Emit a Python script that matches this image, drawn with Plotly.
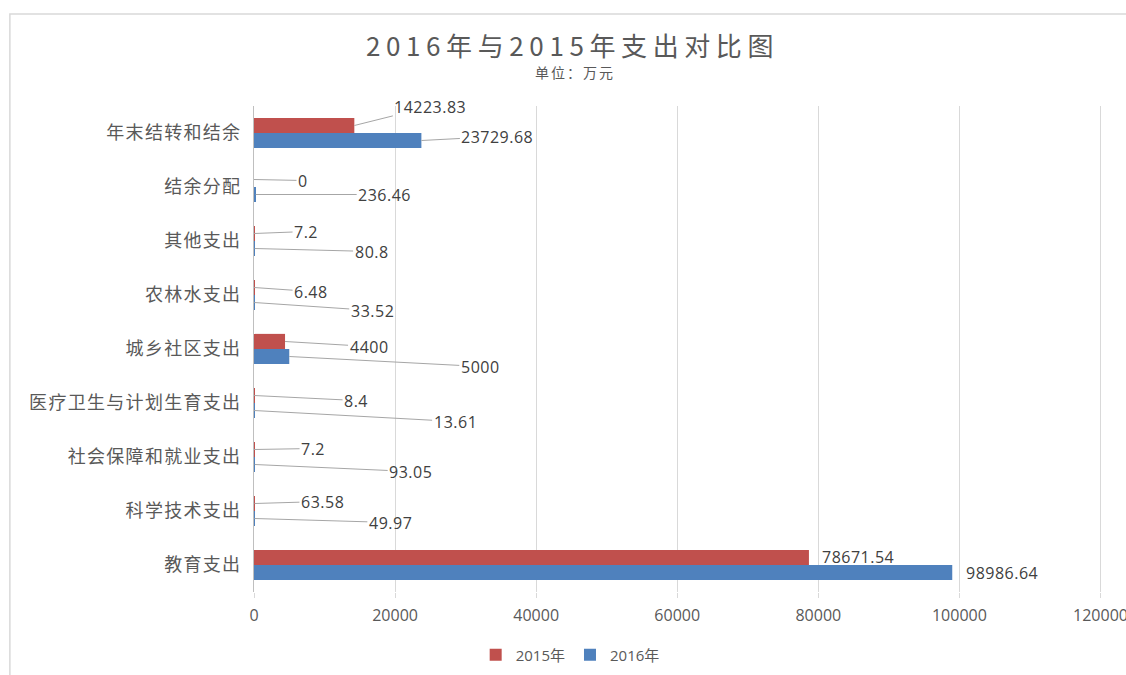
import plotly.graph_objects as go

# ---- data (top-to-bottom as displayed) ----
categories = ["年末结转和结余", "结余分配", "其他支出", "农林水支出", "城乡社区支出",
              "医疗卫生与计划生育支出", "社会保障和就业支出", "科学技术支出", "教育支出"]
values_2015 = [14223.83, 0, 7.2, 6.48, 4400, 8.4, 7.2, 63.58, 78671.54]
values_2016 = [23729.68, 236.46, 80.8, 33.52, 5000, 13.61, 93.05, 49.97, 98986.64]
series_names = ["2015年", "2016年"]
x_ticks = [0, 20000, 40000, 60000, 80000, 100000, 120000]

# label leader offsets (pixels, styling only)
off_2015 = [(76, -19), (49, 1), (52, -2), (57, 4), (84, 5), (102, 5), (59, -1), (68, -2), (49, -1)]
off_2016 = [(76, -4), (129, 0), (117, 3), (118, 8), (191, 10), (201, 11), (156, 7), (136, 4), (50, 0)]

RED = "#C0504D"
BLUE = "#4F81BD"
TXT = "#595959"
GRID = "#D9D9D9"

W, H = 1126, 675
L, T, B = 254, 106, 83
XMAX = 120500
PW = 846 * XMAX / 120000
R = W - L - PW
PH = H - T - B


def px_x(p):
    return (p - L) / PW


def px_y(p):
    return (H - B - p) / PH


def fmt(v):
    return f"{v:.2f}".rstrip("0").rstrip(".")


fig = go.Figure()
fig.add_trace(go.Bar(y=categories, x=values_2015, orientation="h", name=series_names[0],
                     marker=dict(color=RED, line=dict(width=0))))
fig.add_trace(go.Bar(y=categories, x=values_2016, orientation="h", name=series_names[1],
                     marker=dict(color=BLUE, line=dict(width=0))))

annotations = []
for vals, offs, ys in ((values_2015, off_2015, 7.5), (values_2016, off_2016, -7.5)):
    for i, (c, v) in enumerate(zip(categories, vals)):
        ax, ay = offs[i]
        hide = i == len(categories) - 1
        annotations.append(dict(
            x=v, y=c, xref="x", yref="y", yshift=ys,
            text=f'<span style="letter-spacing:0.5px">{fmt(v)}</span>',
            showarrow=True, arrowhead=0, arrowwidth=1,
            arrowcolor="rgba(0,0,0,0)" if hide else "#A6A6A6",
            ax=ax, ay=ay, axref="pixel", ayref="pixel",
            font=dict(size=16, color="#404040", family="Open Sans, Noto Sans CJK SC"),
        ))

# title and subtitle
annotations.append(dict(
    text='<span style="letter-spacing:5.6px">2016年与2015年支出对比图</span>',
    xref="paper", yref="paper", x=px_x(572), y=px_y(45),
    xanchor="center", yanchor="middle", showarrow=False,
    font=dict(size=26, color=TXT, family="Noto Sans CJK SC, Open Sans")))
annotations.append(dict(
    text='<span style="letter-spacing:2px">单位：万元</span>',
    xref="paper", yref="paper", x=px_x(575), y=px_y(72),
    xanchor="center", yanchor="middle", showarrow=False,
    font=dict(size=14, color=TXT, family="Noto Sans CJK SC")))

fig.update_layout(
    width=W, height=H,
    margin=dict(l=L, r=R, t=T, b=B, autoexpand=False),
    paper_bgcolor="white", plot_bgcolor="white",
    barmode="group", bargap=0.44, bargroupgap=0,
    font=dict(family="Open Sans, Noto Sans CJK SC", color=TXT),
    showlegend=True,
    legend=dict(orientation="h", x=px_x(570), y=px_y(655),
                xanchor="center", yanchor="middle",
                font=dict(size=15, color=TXT, family="Open Sans, Noto Sans CJK SC"),
                itemwidth=30, tracegroupgap=0),
    annotations=annotations,
    shapes=[dict(type="rect", xref="paper", yref="paper",
                 x0=px_x(10), x1=px_x(1140),
                 y0=px_y(690), y1=px_y(14),
                 line=dict(color=GRID, width=1.5), fillcolor="rgba(0,0,0,0)", layer="below")],
)
fig.update_xaxes(range=[0, XMAX], tickvals=x_ticks, ticktext=[str(t) for t in x_ticks],
                 showgrid=True, gridcolor=GRID, gridwidth=1, zeroline=False,
                 ticks="outside", ticklen=5, tickcolor=GRID, ticklabelstandoff=4,
                 ticklabeloverflow="allow",
                 tickfont=dict(size=16, color=TXT, family="Open Sans"),
                 showline=False, fixedrange=True)
fig.update_yaxes(autorange="reversed", type="category",
                 tickvals=categories,
                 ticktext=[f'<span style="letter-spacing:1.3px">{c}</span>' for c in categories],
                 showline=True, linecolor="#BFBFBF", linewidth=1,
                 ticks="", ticklabelstandoff=8,
                 tickfont=dict(size=18, color=TXT, family="Noto Sans CJK SC"),
                 showgrid=False, fixedrange=True)

fig.write_html("out.html", config={"displayModeBar": False, "staticPlot": False},
               post_script="document.body.style.margin='0';document.body.style.overflow='hidden';")
